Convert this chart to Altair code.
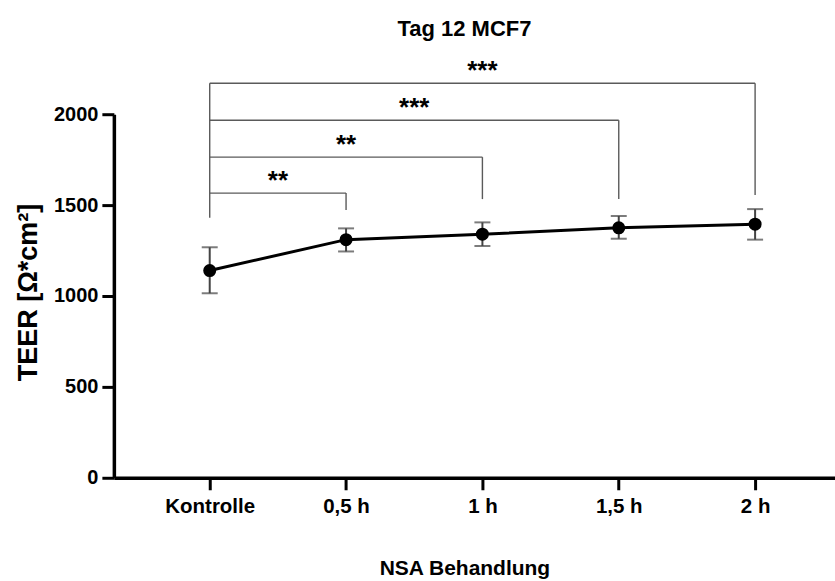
import altair as alt
import pandas as pd

categories = ["Kontrolle", "0,5 h", "1 h", "1,5 h", "2 h"]
means = [1140, 1310, 1340, 1375, 1395]
err_low = [1015, 1245, 1275, 1315, 1310]
err_high = [1268, 1372, 1405, 1440, 1478]

# significance brackets: comparison Kontrolle vs target
bracket_targets = [1, 2, 3, 4]
bracket_levels = [1566, 1764, 1967, 2170]
bracket_drop_ends = [1473, 1533, 1533, 1555]
bracket_labels = ["**", "**", "***", "***"]
bracket_left_bottom = 1430

FONT = "Liberation Sans"

df = pd.DataFrame({
    "idx": list(range(len(categories))),
    "cat": categories,
    "mean": means,
    "lo": err_low,
    "hi": err_high,
})

br = pd.DataFrame({
    "x0": [0] * len(bracket_targets),
    "x1": bracket_targets,
    "xm": [t / 2 for t in bracket_targets],
    "level": bracket_levels,
    "drop": bracket_drop_ends,
    "label": bracket_labels,
})
left_df = pd.DataFrame({"x": [0], "y": [bracket_left_bottom], "y2": [max(bracket_levels)]})

label_expr = "[" + ",".join("'%s'" % c for c in categories) + "][datum.value]"

xscale = alt.Scale(domain=[-0.703, 4.586], nice=False, zero=False)
yscale = alt.Scale(domain=[0, 2000], nice=False)

xaxis = alt.Axis(
    values=[0, 1, 2, 3, 4], labelExpr=label_expr, title="NSA Behandlung",
    grid=False, domainWidth=3.5, domainColor="black", tickColor="black",
    tickWidth=3, tickSize=12, labelFont=FONT, labelFontSize=20.5,
    labelFontWeight="bold", labelColor="black", labelPadding=7,
    titleFont=FONT, titleFontSize=21, titleFontWeight="bold",
    titleColor="black", titleX=351, titleY=91, titleBaseline="middle",
    labelFlush=False,
)
yaxis = alt.Axis(
    values=[0, 500, 1000, 1500, 2000], format="d", title="TEER [Ω*cm²]", grid=False,
    domainWidth=3.5, domainColor="black", tickColor="black", tickWidth=3,
    tickSize=12, labelFont=FONT, labelFontSize=20, labelFontWeight="bold",
    labelColor="black", labelPadding=4, titleFont=FONT, titleFontSize=27,
    titleFontWeight="bold", titleColor="black", titleX=-85, titleY=178,
    titleAngle=-90, titleBaseline="middle", titleAlign="center",
    labelFlush=False,
)

base = alt.Chart(df)

line = base.mark_line(color="black", strokeWidth=3).encode(
    x=alt.X("idx:Q", scale=xscale, axis=xaxis),
    y=alt.Y("mean:Q", scale=yscale, axis=yaxis),
)
ecol = "#444444"
errs = base.mark_rule(color=ecol, strokeWidth=2).encode(
    x="idx:Q", y="lo:Q", y2="hi:Q"
)
cap_lo = base.mark_tick(color=ecol, thickness=2, size=16, orient="horizontal").encode(
    x="idx:Q", y="lo:Q"
)
cap_hi = base.mark_tick(color=ecol, thickness=2, size=16, orient="horizontal").encode(
    x="idx:Q", y="hi:Q"
)
points = base.mark_point(filled=True, color="black", size=170, opacity=1).encode(
    x="idx:Q", y="mean:Q"
)

bcol = "#5a5a5a"
bw = 1.4
hbar = alt.Chart(br).mark_rule(color=bcol, strokeWidth=bw).encode(
    x="x0:Q", x2="x1:Q", y="level:Q"
)
drop = alt.Chart(br).mark_rule(color=bcol, strokeWidth=bw).encode(
    x="x1:Q", y="drop:Q", y2="level:Q"
)
left = alt.Chart(left_df).mark_rule(color=bcol, strokeWidth=bw).encode(
    x="x:Q", y="y:Q", y2="y2:Q"
)
stars = alt.Chart(br).mark_text(
    font=FONT, fontSize=26, fontWeight="bold", color="black",
    baseline="alphabetic", dy=-4
).encode(x="xm:Q", y="level:Q", text="label:N")

chart = alt.layer(
    hbar, drop, left, errs, cap_lo, cap_hi, line, points, stars
).properties(
    width=722, height=364,
    title=alt.TitleParams(
        "Tag 12 MCF7", font=FONT, fontSize=22, fontWeight="bold",
        color="black", offset=17, frame="group", dx=-10,
    ),
    padding={"left": 114, "top": 114, "right": 0, "bottom": 103},
    autosize=alt.AutoSizeParams(type="none"),
    background="white",
).configure_view(stroke=None)

chart.save("out.html", embed_options={"renderer": "svg", "actions": False})
